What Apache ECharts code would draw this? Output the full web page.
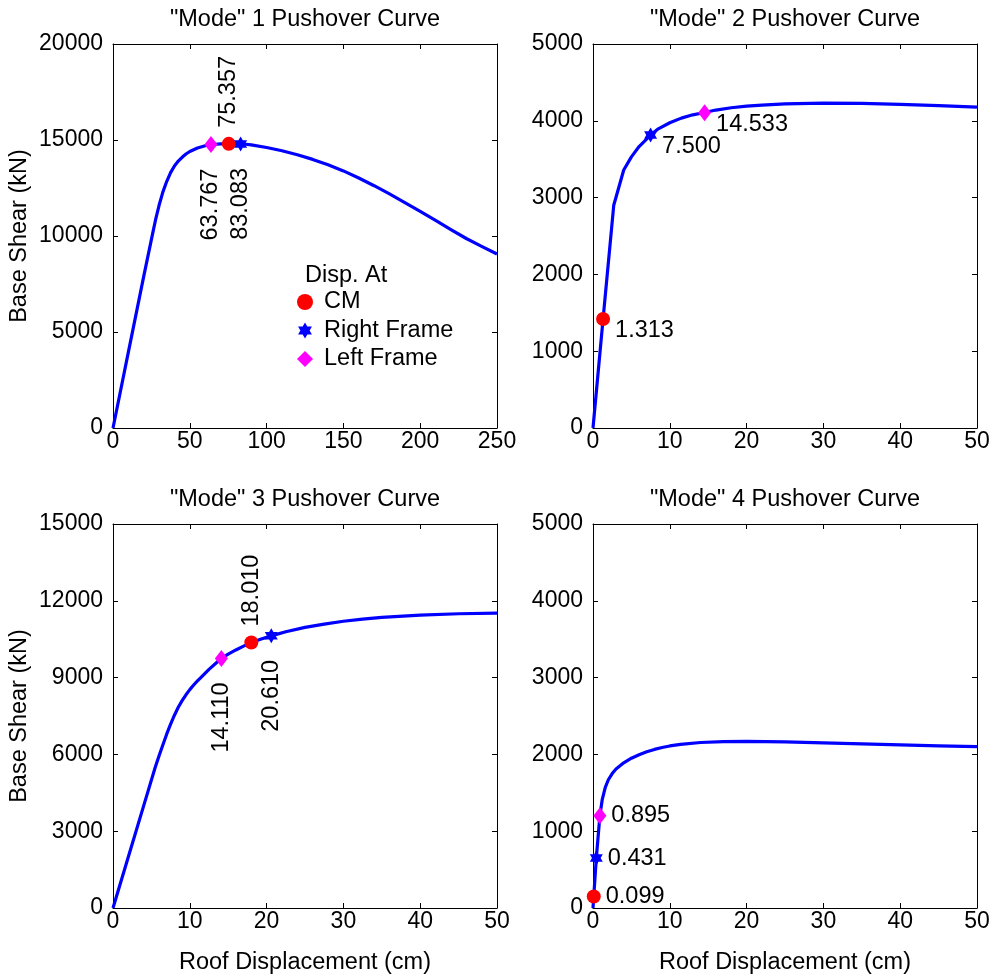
<!DOCTYPE html>
<html><head><meta charset="utf-8">
<script src="https://cdn.jsdelivr.net/npm/echarts@6/dist/echarts.min.js"></script>
<style>html,body{margin:0;padding:0;background:#fff}#c{width:993px;height:977px}</style>
</head><body><div id="c"></div>
<script>
// ---------- data ----------
const titles = ['"Mode" 1 Pushover Curve', '"Mode" 2 Pushover Curve', '"Mode" 3 Pushover Curve', '"Mode" 4 Pushover Curve'];
const xMax = [250, 50, 50, 50];
const xInterval = [50, 10, 10, 10];
const yMax = [20000, 5000, 15000, 5000];
const yInterval = [5000, 1000, 3000, 1000];

const mode1Curve = [[0,0],[10,3950],[20,7900],[26,10200],[28,10950],[30,11600],[32.5,12300],[35,12850],[37.5,13300],[40,13650],[42.5,13900],[45,14100],[47.5,14270],[50,14400],[55,14580],[60,14700],[65,14765],[70,14795],[75,14805],[80,14802],[85,14790],[90,14750],[100,14610],[110,14440],[120,14235],[130,13990],[140,13710],[150,13390],[160,13020],[170,12620],[180,12190],[190,11740],[200,11280],[210,10810],[220,10330],[230,9870],[240,9460],[250,9060]];
const mode2Curve = [[0,0],[1.313,1420],[2.7,2900],[4,3360],[5,3530],[6,3665],[7.5,3815],[8.5,3895],[10,3975],[11.5,4035],[13,4078],[14.533,4108],[16,4140],[18,4170],[20,4190],[22,4205],[25,4220],[30,4230],[35,4228],[40,4215],[45,4198],[50,4178]];
const mode3Curve = [[0,0],[2,2000],[4,4000],[5.5,5500],[6,5950],[6.5,6380],[7,6800],[7.5,7180],[8,7530],[8.5,7840],[9,8100],[9.5,8330],[10,8530],[10.5,8710],[11,8870],[11.5,9020],[12.5,9320],[13.5,9590],[14.11,9750],[15,9920],[16,10080],[17,10230],[18.01,10370],[19.3,10510],[20.61,10630],[22.5,10790],[25,10960],[27.5,11090],[30,11200],[32.5,11285],[35,11350],[40,11440],[45,11495],[50,11520]];
const mode4Curve = [[0,0],[0.099,150],[0.431,650],[0.895,1200],[1.2,1410],[1.6,1570],[2,1670],[2.5,1750],[3,1810],[4,1890],[5,1950],[6,1995],[7,2035],[8,2065],[9,2090],[10,2110],[11.4,2130],[14,2155],[17,2167],[20,2170],[25,2163],[30,2150],[35,2138],[40,2125],[45,2112],[50,2100]];
const curves = [mode1Curve, mode2Curve, mode3Curve, mode4Curve];

const cmPoints    = [[75.357,14800],[1.313,1420],[18.010,10370],[0.099,150]];
const rightPoints = [[83.083,14795],[7.500,3815],[20.610,10630],[0.431,650]];
const leftPoints  = [[63.767,14760],[14.533,4105],[14.110,9750],[0.895,1200]];

const markerNames = ['CM', 'Right Frame', 'Left Frame'];
const yName = 'Base Shear (kN)';
const xName = 'Roof Displacement (cm)';
const legendTitle = 'Disp. At';

// ---------- styling / layout ----------
const FONT = 'Liberation Sans, Arial, Helvetica, sans-serif';
const FS = 23.5;
const grids = [
  {left:113, top:44, width:384, height:384},
  {left:593, top:44, width:384, height:384},
  {left:113, top:524, width:384, height:384},
  {left:593, top:524, width:384, height:384}
];
const STAR = 'path://M50,0 L64.43,25 L93.3,25 L78.87,50 L93.3,75 L64.43,75 L50,100 L35.57,75 L6.7,75 L21.13,50 L6.7,25 L35.57,25 Z';
const symbols = ['circle', STAR, 'diamond'];
const symbolSizes = [14, [13,15], [13,17]];
const colors = ['#ff0000', '#0000ff', '#ff00ff'];
const markerSets = [cmPoints, rightPoints, leftPoints];

const txt = {color:'#000', fontFamily:FONT, fontSize:FS};
const tickTxt = {color:'#000', fontFamily:FONT, fontSize:23};
const fmt = p => p.value[0].toFixed(3);
function rotUp(d){ return Object.assign({show:true, position:'top', distance:d, rotate:90, align:'left', verticalAlign:'middle', formatter:fmt}, txt); }
function rotDown(d){ return Object.assign({show:true, position:'bottom', distance:d, rotate:90, align:'right', verticalAlign:'middle', formatter:fmt}, txt); }
function side(dy){ return Object.assign({show:true, position:'right', distance:5, offset:[0,dy], align:'left', verticalAlign:'middle', formatter:fmt}, txt); }

function labelFor(mode, k){
  if (mode === 0 || mode === 2) {
    if (k === 0) return rotUp(9);
    return rotDown(k === 1 ? 16.5 : 15.5);
  }
  if (mode === 1) return side(12);
  return side(0);
}

const axisLineStyle = {show:true, onZero:false, lineStyle:{color:'#000', width:1}};
const tick = {show:true, inside:true, length:5, lineStyle:{color:'#000', width:1}};
const plain = v => String(v);

const xAxes = [], yAxes = [], series = [];
for (let i = 0; i < 4; i++) {
  xAxes.push({
    type:'value', gridIndex:i, min:0, max:xMax[i], interval:xInterval[i], position:'bottom',
    axisLine:axisLineStyle, axisTick:tick, splitLine:{show:false},
    axisLabel:Object.assign({margin:2, formatter:plain}, tickTxt),
    name: i >= 2 ? xName : '', nameLocation:'middle', nameGap:43, nameTextStyle:txt
  });
  yAxes.push({
    type:'value', gridIndex:i, min:0, max:yMax[i], interval:yInterval[i], position:'left',
    axisLine:axisLineStyle, axisTick:tick, splitLine:{show:false},
    axisLabel:Object.assign({margin:10, formatter:plain}, tickTxt),
    name: (i % 2 === 0) ? yName : '', nameLocation:'middle', nameGap:81, nameTextStyle:txt
  });
}
for (let i = 0; i < 4; i++) {
  xAxes.push({
    type:'value', gridIndex:i, min:0, max:xMax[i], interval:xInterval[i], position:'top',
    axisLine:axisLineStyle, axisTick:tick, splitLine:{show:false}, axisLabel:{show:false},
    name:titles[i], nameLocation:'middle', nameGap:12, nameTextStyle:txt
  });
  yAxes.push({
    type:'value', gridIndex:i, min:0, max:yMax[i], interval:yInterval[i], position:'right',
    axisLine:axisLineStyle, axisTick:tick, splitLine:{show:false}, axisLabel:{show:false}
  });
}

for (let i = 0; i < 4; i++) {
  series.push({
    type:'line', xAxisIndex:i, yAxisIndex:i, data:curves[i], symbol:'none',
    smooth:false, silent:true,
    lineStyle:{color:'#0000ff', width:3.2, join:'round'}, z:2
  });
  for (let k = 0; k < 3; k++) {
    series.push({
      type:'scatter', name:markerNames[k], xAxisIndex:i, yAxisIndex:i,
      data:[markerSets[k][i]], symbol:symbols[k], symbolSize:symbolSizes[k],
      itemStyle:{color:colors[k], opacity:1}, label:labelFor(i, k), z:5
    });
  }
}

const option = {
  backgroundColor:'#fff',
  animation:false,
  title:[{text:legendTitle, left:305, top:264, padding:0, textStyle:Object.assign({fontWeight:'normal'}, txt)}],
  legend:{
    orient:'vertical', left:297, top:290, itemWidth:16, itemHeight:16, itemGap:4.5, padding:0,
    selectedMode:false,
    data:[{name:'CM', icon:'circle'}, {name:'Right Frame', icon:STAR}, {name:'Left Frame', icon:'diamond'}],
    textStyle:Object.assign({lineHeight:24, padding:[0,0,0,6]}, txt)
  },
  grid:grids,
  xAxis:xAxes,
  yAxis:yAxes,
  series:series
};
const chart = echarts.init(document.getElementById('c'), null, {renderer:'canvas'});
chart.setOption(option);
</script>
</body></html>
